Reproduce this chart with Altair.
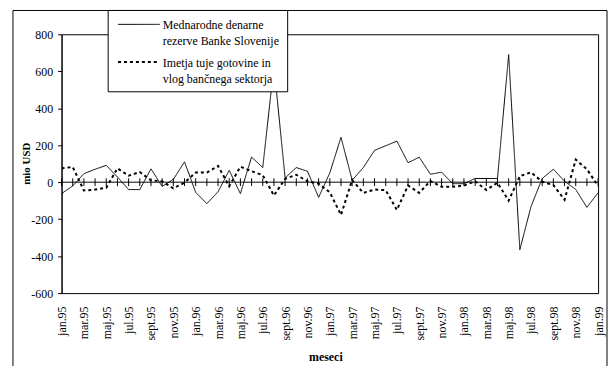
import altair as alt
import pandas as pd

# ---- data -------------------------------------------------------------
mon = ["jan", "feb", "mar", "apr", "maj", "jun", "jul", "avg", "sept", "okt", "nov", "dec"]
years = ["95", "96", "97", "98"]
months = [f"{m}.{y}" for y in years for m in mon] + ["jan.99"]
tick_labels = months[::2]

series_names = [
    "Mednarodne denarne rezerve Banke Slovenije",
    "Imetja tuje gotovine in vlog bančnega sektorja",
]
legend_lines = [
    ["Mednarodne denarne", "rezerve Banke Slovenije"],
    ["Imetja tuje gotovine in", "vlog bančnega sektorja"],
]

reserves = [-62, -20, 46, 70, 91, 28, -40, -40, 72, -23, 15, 110,
            -55, -116, -52, 64, -62, 136, 79, 630, 23, 79, 59, -82,
            50, 243, 11, 79, 172, 197, 222, 105, 135, 43, 54, -8,
            -8, 20, 20, 20, 690, -365, -132, 20, 70, 5, -39, -136,
            -57]
foreign = [75, 82, -45, -40, -30, 75, 35, 55, 10, 5, -33, -3,
           52, 52, 88, -22, 84, 59, 38, -72, 18, 40, 5, -8,
           -55, -177, 12, -58, -40, -43, -150, -18, -58, 7, -25, -25,
           -18, 5, -42, -3, -100, 33, 53, 3, -16, -95, 122, 70,
           -20]
y_ticks = [-600, -400, -200, 0, 200, 400, 600, 800]

FONT = "Liberation Serif"
DASH = [[1, 0], [3, 3]]
WIDTHS = [1, 2]

df = pd.DataFrame({
    "mesec": months * 2,
    "serija": [series_names[0]] * len(months) + [series_names[1]] * len(months),
    "vrednost": reserves + foreign,
})
ticks_df = pd.DataFrame({"mesec": months})

x_scale = alt.Scale(type="point", padding=0, domain=months)
y_scale = alt.Scale(domain=[-600, 800], nice=False, zero=False)

x_axis = alt.Axis(
    values=tick_labels, labelAngle=270, labelAlign="right", labelBaseline="middle",
    labelPadding=13, ticks=False, domain=False, grid=False, labelOverlap=False,
    labelFont=FONT, labelFontSize=12, labelColor="black",
    title="meseci", titleFont=FONT, titleFontSize=12, titleFontWeight="bold",
    titleColor="black", titleX=266, titleY=64, titleAlign="center", titleBaseline="middle",
)
y_axis = alt.Axis(
    values=y_ticks, tickSize=4, tickColor="black", domainColor="black", grid=False,
    labelOverlap=False, labelFont=FONT, labelFontSize=12, labelColor="black", labelPadding=5,
    labelExpr="datum.value + ''",
    title="mio USD", titleFont=FONT, titleFontSize=11, titleFontWeight="bold",
    titleColor="black", titleAngle=270, titleX=-35, titleY=130,
    titleAlign="center", titleBaseline="middle",
)

one = alt.Data(values=[{}])

frame = alt.Chart(one).mark_rect(
    fillOpacity=0, stroke="black", strokeWidth=1
).encode(x=alt.value(-49), x2=alt.value(550), y=alt.value(-24), y2=alt.value(400))

zero_line = alt.Chart(one).mark_rule(color="black", strokeWidth=1).encode(
    y=alt.datum(0, scale=y_scale, axis=y_axis)
)

month_ticks = alt.Chart(ticks_df).mark_rule(color="black", strokeWidth=1).encode(
    x=alt.X("mesec:N", scale=x_scale, axis=x_axis),
    y=alt.datum(-21, scale=y_scale, axis=y_axis),
    y2=alt.datum(21),
)

lines = alt.Chart(df).mark_line(color="black", clip=False).encode(
    x=alt.X("mesec:N", scale=x_scale, axis=x_axis),
    y=alt.Y("vrednost:Q", scale=y_scale, axis=y_axis),
    strokeDash=alt.StrokeDash(
        "serija:N", scale=alt.Scale(domain=series_names, range=DASH), legend=None
    ),
    strokeWidth=alt.StrokeWidth(
        "serija:N", scale=alt.Scale(domain=series_names, range=WIDTHS), legend=None
    ),
)

# ---- legend box (drawn by hand, on top of the lines) ------------------
legend_box = alt.Chart(one).mark_rect(
    fill="white", stroke="black", strokeWidth=1
).encode(x=alt.value(47), x2=alt.value(228), y=alt.value(-24), y2=alt.value(58))

legend_layers = [legend_box]
for k, ypos in enumerate([-10, 28]):
    legend_layers.append(
        alt.Chart(one).mark_rule(
            color="black", strokeWidth=WIDTHS[k], strokeDash=DASH[k]
        ).encode(x=alt.value(57), x2=alt.value(99), y=alt.value(ypos))
    )
    legend_layers.append(
        alt.Chart(one).mark_text(
            text=legend_lines[k], align="left", baseline="middle", lineHeight=16,
            font=FONT, fontSize=12, color="black"
        ).encode(x=alt.value(102), y=alt.value(ypos + 1))
    )

chart = alt.layer(frame, zero_line, month_ticks, lines, *legend_layers).properties(
    width=541, height=261,
    autosize=alt.AutoSizeParams(type="none"),
    padding={"left": 54, "top": 25, "right": 10, "bottom": 72},
    background="white",
).configure_view(
    stroke="black", strokeWidth=1
).configure_axisY(
    labelOverlap=False
)

chart.save("out.html", embed_options={"renderer": "svg", "actions": False})
